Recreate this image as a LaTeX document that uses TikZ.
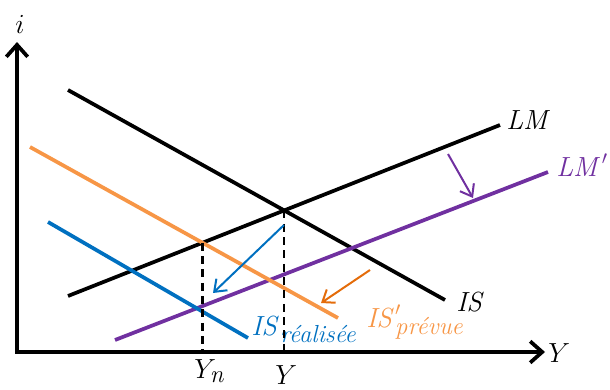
\documentclass[tikz,border=0pt]{standalone}
\usepackage{tikz}
\usetikzlibrary{arrows.meta}

\definecolor{isblue}{HTML}{0070C0}
\definecolor{isorange}{HTML}{F79646}
\definecolor{arrorange}{HTML}{E46C0A}
\definecolor{lmpurple}{HTML}{7030A0}

\newcommand{\sublbl}[1]{\mbox{\fontsize{18.5}{19}\selectfont\itshape #1}}

\begin{document}
\begin{tikzpicture}[
		x=0.75pt, y=-0.75pt,
		font=\fontsize{21.5}{26}\selectfont,
		>={Straight Barb[length=9pt,width=16pt]},
		axis/.style={<->, line width=2.8pt},
		curve/.style={line width=2.8pt},
		move/.style={->, line width=1.5pt, >={Straight Barb[length=8pt,width=12pt]}},
		guide/.style={line width=1.7pt, dash pattern=on 6pt off 4pt},
		lbl/.style={inner sep=0pt, anchor=base west}
		]
		\useasboundingbox (0,0) rectangle (610,389);
		
		% axes
		\coordinate (O) at (17,352);
		\coordinate (itop) at (17,42);
		\coordinate (Yend) at (545,352);
		\draw[axis] (itop) -- (O) -- (Yend);
		\node[lbl, anchor=base] (ilbl) at (20,33) {$i$};
		\node[lbl] (Ylbl) at (548,362) {$Y$};
		
		% curves
		\coordinate (is1) at (68,90);
		\coordinate (is2) at (445,300);
		\coordinate (lm1) at (68,296);
		\coordinate (lm2) at (500,125);
		\coordinate (lmp1) at (115,340);
		\coordinate (lmp2) at (548,172);
		\coordinate (isp1) at (30,147);
		\coordinate (isp2) at (338,318);
		\coordinate (isr1) at (48,222);
		\coordinate (isr2) at (248,338);
		
		\draw[curve] (is1) -- (is2);
		\draw[curve] (lm1) -- (lm2);
		\draw[curve, lmpurple] (lmp1) -- (lmp2);
		\draw[curve, isorange] (isp1) -- (isp2);
		\draw[curve, isblue] (isr1) -- (isr2);
		
		\node[lbl] (ISlbl) at (456,311) {$\mathit{IS}$};
		\node[lbl] (LMlbl) at (506,129) {$\mathit{LM}$};
		\node[lbl, lmpurple] (LMplbl) at (556,176) {$\mathit{LM}'$};
		\node[lbl, isblue] (ISrlbl) at (251,335) {$\mathit{IS}_{\sublbl{réalisée}}$};
		\node[lbl, isorange] (ISplbl) at (366,327) {$\mathit{IS}'_{\sublbl{prévue}}$};
		
		% equilibria
		\coordinate (E) at (intersection of is1--is2 and lm1--lm2);
		\coordinate (En) at (intersection of isp1--isp2 and lm1--lm2);
		\draw[guide] (E) -- (E |- O);
		\draw[guide] (En) -- (En |- O);
		\node[lbl] (Ylbl2) at (275,384) {$Y$};
		\node[lbl] (Ynlbl) at (194,378) {$Y_{\sublbl{n}}$};
		
		% shifts
		\coordinate (b1) at (284,225);
		\coordinate (b2) at (213,293);
		\coordinate (o1) at (370,270);
		\coordinate (o2) at (321,303);
		\coordinate (p1) at (448,154);
		\coordinate (p2) at (473,198);
		\draw[move, isblue] (b1) -- (b2);
		\draw[move, arrorange] (o1) -- (o2);
		\draw[move, lmpurple] (p1) -- (p2);
	\end{tikzpicture}
\end{document}
